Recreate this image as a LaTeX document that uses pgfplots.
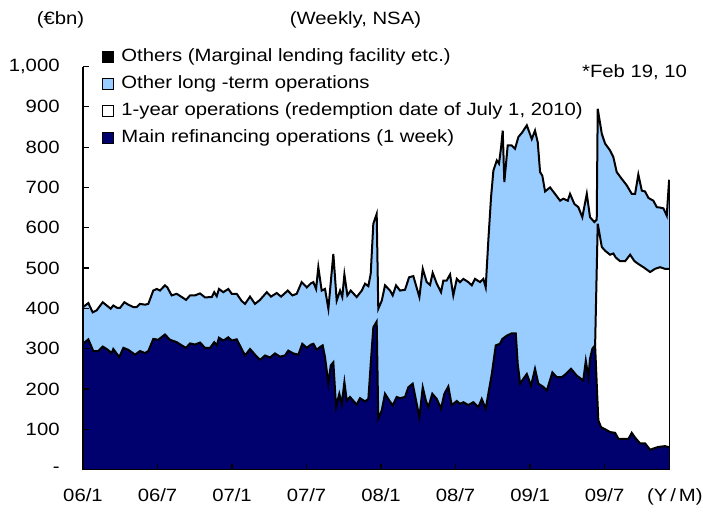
\documentclass[border=0pt]{standalone}
\usepackage{pgfplots}
\usepackage{pgfplotstable}
\pgfplotsset{compat=1.18}
\usepackage{fontspec}
\setmainfont[FakeStretch=1.14]{Liberation Sans}
\definecolor{navy}{RGB}{0,0,110}
\definecolor{lblue}{RGB}{153,204,255}

% cumulative total (all operations)
\pgfplotstableread{
x y
0.00 403
0.43 413
0.78 390
1.10 395
1.59 415
1.91 407
2.23 399
2.44 407
2.76 401
2.98 401
3.33 415
3.65 409
4.05 403
4.32 403
4.59 411
4.99 409
5.26 411
5.66 444
5.94 448
6.20 444
6.60 457
6.79 452
7.14 432
7.55 436
7.95 428
8.30 421
8.62 432
9.02 432
9.42 437
9.83 427
10.37 428
10.57 440
10.77 430
10.95 448
11.30 440
11.70 448
11.98 436
12.38 436
12.78 418
13.05 411
13.45 429
13.85 411
14.26 421
14.80 440
15.14 429
15.60 438
15.95 429
16.49 444
16.86 432
17.21 436
17.61 465
18.02 452
18.36 462
18.55 465
18.77 448
18.95 502
19.22 444
19.49 448
19.76 399
20.16 535
20.43 419
20.70 444
20.88 428
21.05 484
21.29 432
21.56 444
22.04 428
22.45 444
22.71 461
22.98 455
23.17 486
23.38 610
23.65 634
23.78 399
24.06 419
24.32 457
24.73 444
24.94 432
25.21 457
25.53 444
25.93 446
26.26 477
26.60 480
27.09 428
27.36 498
27.68 465
27.95 458
28.16 488
28.49 461
28.83 440
29.02 469
29.29 469
29.56 484
29.82 432
30.10 473
30.36 465
30.63 473
31.03 465
31.31 457
31.57 473
31.97 465
32.24 473
32.43 452
32.64 568
32.86 676
33.05 742
33.32 767
33.50 759
33.67 800
33.80 841
33.93 713
34.20 804
34.53 804
34.79 796
35.06 825
35.38 837
35.74 854
36.14 820
36.40 841
36.62 812
36.81 738
36.99 729
37.21 690
37.61 700
38.01 684
38.42 667
38.68 672
39.04 667
39.22 684
39.57 659
39.89 651
40.21 626
40.57 684
40.83 626
41.18 614
41.37 620
41.45 895
41.78 833
42.04 809
42.44 792
42.71 775
42.98 738
43.39 721
43.79 705
44.19 684
44.46 684
44.72 732
45.00 692
45.26 690
45.53 674
45.93 667
46.21 651
46.47 650
46.74 648
47.01 630
47.20 719
}\totaltable

% main refinancing + 1-year operations
\pgfplotstableread{
x y
41.24 308
41.45 610
41.78 552
42.04 543
42.44 533
42.71 536
42.90 526
43.25 517
43.66 517
44.06 533
44.41 517
44.72 510
45.13 502
45.67 490
46.07 498
46.47 502
46.87 498
47.20 498
}\oneyeartable

% main refinancing operations
\pgfplotstableread{
x y
0.00 312
0.43 323
0.83 294
1.23 294
1.59 305
1.91 299
2.31 289
2.44 299
2.92 279
3.25 302
3.65 297
4.19 285
4.59 294
4.99 289
5.26 294
5.66 324
6.06 322
6.60 335
7.00 322
7.55 316
7.95 308
8.30 302
8.62 313
9.02 310
9.42 315
9.83 302
10.23 302
10.57 316
10.77 308
10.95 327
11.30 320
11.70 328
11.98 320
12.38 323
12.78 299
13.05 283
13.45 299
13.85 285
14.26 272
14.66 283
15.06 278
15.46 288
15.87 280
16.27 283
16.53 295
16.94 288
17.34 285
17.66 312
18.02 302
18.36 310
18.56 312
18.82 297
19.09 304
19.30 308
19.49 279
19.76 213
19.95 258
20.16 266
20.38 155
20.64 188
20.84 163
21.05 217
21.24 171
21.50 180
22.04 161
22.31 177
22.71 169
22.98 175
23.17 262
23.38 353
23.65 367
23.78 126
24.06 147
24.32 188
24.67 171
24.94 159
25.26 180
25.53 177
25.93 180
26.20 204
26.55 213
26.82 171
27.09 130
27.36 204
27.62 170
27.81 155
28.13 188
28.49 175
28.83 151
29.10 188
29.42 206
29.69 160
30.10 170
30.36 163
30.63 167
31.03 160
31.43 167
31.84 155
32.11 175
32.43 151
32.64 188
32.92 237
33.24 308
33.58 312
33.77 324
34.12 332
34.53 338
34.85 338
35.01 262
35.20 213
35.46 225
35.74 237
36.08 208
36.40 250
36.67 213
37.07 205
37.35 196
37.61 222
37.80 241
38.15 229
38.55 229
38.88 237
39.30 250
39.76 233
40.29 221
40.49 270
40.70 229
40.83 275
41.02 300
41.24 308
41.37 213
41.50 122
41.72 105
42.04 100
42.44 93
42.85 91
43.12 76
43.52 76
43.92 76
44.19 91
44.46 79
44.86 65
45.26 65
45.67 49
45.93 52
46.33 56
46.87 58
47.20 55
}\mrotable

\begin{document}
\begin{tikzpicture}
\useasboundingbox (-41.5pt,-20.75pt) rectangle (310pt,234.75pt);
\begin{axis}[
  at={(0,0)}, anchor=south west,
  scale only axis, width=293.5pt, height=201.5pt,
  xmin=0, xmax=47.27, ymin=0, ymax=1000,
  axis x line*=bottom, axis y line*=left,
  axis line style={line width=0.6pt, -},
  axis on top,
  tick align=inside, major tick length=3pt,
  tick style={line width=0.6pt, black},
  xtick={0,6,12,18,24,30,36,42},
  xticklabels={06/1,06/7,07/1,07/7,08/1,08/7,09/1,09/7},
  ytick={0,100,200,300,400,500,600,700,800,900,1000},
  yticklabels={-,100,200,300,400,500,600,700,800,900,{1,000}},
  /pgf/number format/assume math mode=true,
  tick label style={font=\fontsize{8.9}{10}\selectfont},
  yticklabel style={anchor=east, inner sep=0pt, xshift=-11.5pt},
  xticklabel style={anchor=north, inner sep=0pt, yshift=-9.2pt},
  legend cell align=left,
  legend image code/.code={\draw[#1, line width=0.5pt] (0pt,-2.75pt) rectangle (5.5pt,2.75pt);},
  legend style={at={(0.0324,1.048)}, anchor=north west, draw=none, fill=none,
    inner xsep=0pt, inner ysep=0pt,
    font=\fontsize{8.9}{10}\selectfont,
    nodes={inner sep=0pt, text height=7pt, text depth=2pt},
    row sep=4.5pt,
    /tikz/every odd column/.append style={column sep=3.5pt}},
]
\addplot[fill=lblue, draw=none, forget plot] table {\totaltable} \closedcycle;
\addplot[fill=white, draw=none, forget plot] table {\oneyeartable} \closedcycle;
\addplot[fill=navy, draw=none, forget plot] table {\mrotable} \closedcycle;
\addplot[black, line width=1pt, forget plot] table {\totaltable};
\addplot[black, line width=1pt, forget plot] table {\oneyeartable};
\addplot[black, line width=1pt, forget plot] table {\mrotable};
\addplot[black, line width=0.6pt, forget plot] coordinates {(47.2,0) (47.2,719)};
\addlegendimage{fill=black, draw=black}
\addlegendentry{Others (Marginal lending facility etc.)}
\addlegendimage{fill=lblue, draw=black}
\addlegendentry{Other long -term operations}
\addlegendimage{fill=white, draw=black}
\addlegendentry{1-year operations (redemption date of July 1, 2010)}
\addlegendimage{fill=navy, draw=black}
\addlegendentry{Main refinancing operations (1 week)}
\end{axis}
\node[font=\fontsize{8.9}{10}\selectfont] at (-11.25pt,224.75pt) {(€bn)};
\node[font=\fontsize{8.9}{10}\selectfont] at (136.25pt,224.75pt) {(Weekly, NSA)};
\node[font=\fontsize{8.9}{10}\selectfont] at (275.8pt,198.9pt) {*Feb 19, 10};
\node[font=\fontsize{8.9}{10}\selectfont, inner sep=0pt, anchor=east] at (310pt,-13.75pt) {(Y\,/\,M)};
\end{tikzpicture}
\end{document}
